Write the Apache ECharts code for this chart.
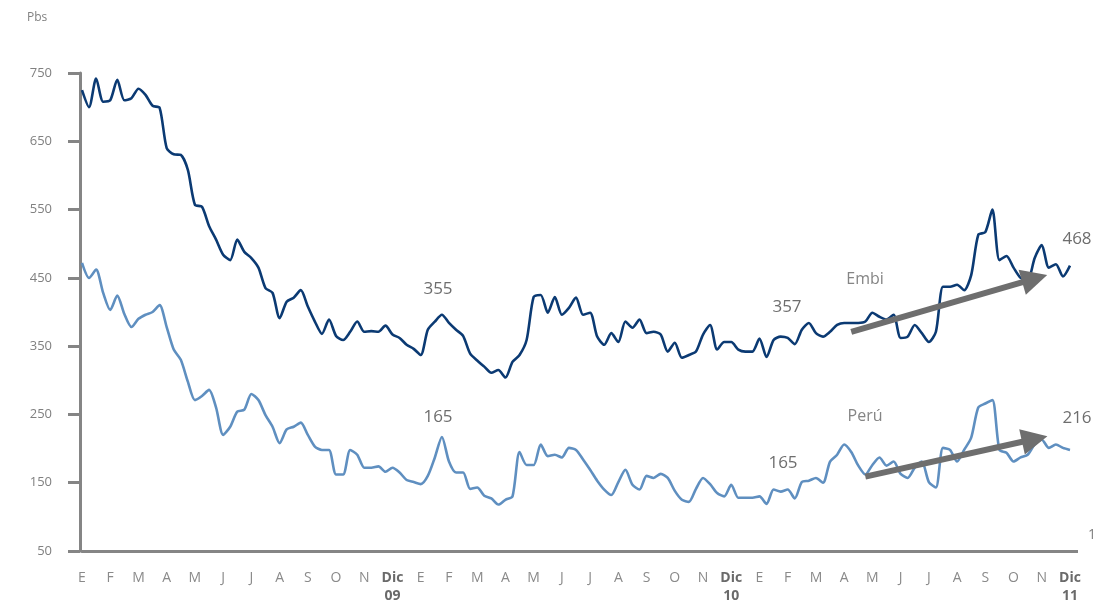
<!DOCTYPE html>
<html>
<head>
<meta charset="utf-8">
<script src="https://cdn.jsdelivr.net/npm/echarts@6/dist/echarts.min.js"></script>
<style>
html,body{margin:0;padding:0;background:#fff;}
#chart{width:1109px;height:610px;}
</style>
</head>
<body>
<div id="chart"></div>
<script>
// Month tick labels (one every 4 data points)
const monthLabels = ['E','F','M','A','M','J','J','A','S','O','N','Dic',
                     'E','F','M','A','M','J','J','A','S','O','N','Dic',
                     'E','F','M','A','M','J','J','A','S','O','N','Dic'];
const yearLabels = ['09','10','11'];
const pointsPerMonth = 4;
const yTicks = [50,150,250,350,450,550,650,750];

// Embi spread (pbs), weekly-ish readings
const embi = [
 725,700,742,708,710,740,710,713,727,718,
 702,699,640,631,630,608,557,554,526,506,
 484,476,506,488,479,465,435,428,391,415,
 421,432,408,386,368,389,365,359,371,386,
 371,372,371,380,367,362,352,346,337,374,
 386,396,384,374,365,339,329,320,311,315,
 304,327,337,359,422,425,399,422,396,406,
 421,396,399,364,352,369,356,386,377,389,
 369,371,367,342,355,333,337,342,367,381,
 345,356,356,345,342,342,361,334,359,364,
 362,353,374,384,369,364,371,381,384,384,
 384,386,399,393,389,396,362,364,381,369,
 356,371,437,437,440,432,454,513,517,550,
 476,482,465,450,447,479,498,465,470,452,
 468
];

// Perú spread (pbs)
const peru = [
 472,450,462,428,403,424,397,378,390,396,
 400,410,378,345,330,298,271,277,286,260,
 220,232,254,257,280,271,249,232,208,228,
 232,238,220,203,198,198,162,162,198,191,
 172,172,174,166,172,165,154,151,148,160,
 187,217,181,165,165,141,143,131,127,118,
 125,130,195,176,176,206,189,191,187,201,
 198,184,169,153,140,132,151,169,147,140,
 160,157,163,157,138,125,122,141,157,148,
 135,130,147,128,128,128,130,119,140,137,
 140,127,151,153,157,150,181,191,206,195,
 175,162,176,187,175,181,163,157,172,181,
 151,143,201,198,181,198,216,260,266,271,
 198,194,181,187,191,206,213,201,206,201,
 198
];

// Trend arrows: [startIndex, startValue, endIndex, endValue]
const embiTrend = [109, 371, 135, 449];
const peruTrend = [111, 159, 135, 214];

const categories = embi.map((_, i) => 't' + i);

const chart = echarts.init(document.getElementById('chart'));
const font = '"Open Sans", "Noto Sans", sans-serif';
const axisGray = '#858585';

function arrow(tr) {
  return {
    silent: true,
    symbol: ['none', 'triangle'],
    symbolSize: [26, 26],
    lineStyle: { color: '#6e6e6e', width: 6, type: 'solid' },
    itemStyle: { color: '#6e6e6e' },
    label: { show: false },
    emphasis: { disabled: true },
    data: [[{ coord: [tr[0], tr[1]] }, { coord: [tr[2], tr[3]] }]]
  };
}

function txt(x, y, s, size, color) {
  return { type: 'text', x: x, y: y, style: { text: s, fontSize: size, fill: color, fontFamily: font, align: 'center', verticalAlign: 'middle' } };
}

chart.setOption({
  animation: false,
  textStyle: { fontFamily: font },
  grid: { left: 82, right: 39, top: 73, bottom: 59, containLabel: false },
  xAxis: {
    type: 'category',
    data: categories,
    boundaryGap: false,
    axisLine: { show: true, lineStyle: { color: axisGray, width: 3 } },
    axisTick: { show: false },
    splitLine: { show: false },
    axisLabel: {
      interval: 0,
      margin: 18,
      fontFamily: font,
      formatter: function (v, idx) {
        if (idx % pointsPerMonth !== 0) return '';
        const m = idx / pointsPerMonth;
        const lab = monthLabels[m];
        if (lab === 'Dic') {
          return '{b|Dic}\n{b|' + yearLabels[Math.floor(m / 12)] + '}';
        }
        return '{n|' + lab + '}';
      },
      rich: {
        n: { color: '#8a8a8a', fontSize: 14, fontFamily: font, lineHeight: 18 },
        b: { color: '#6a6a6a', fontSize: 14, fontWeight: 'bold', fontFamily: font, lineHeight: 18 }
      }
    }
  },
  yAxis: {
    type: 'value',
    min: yTicks[0],
    max: yTicks[yTicks.length - 1],
    interval: 100,
    offset: 2,
    axisLine: { show: true, lineStyle: { color: axisGray, width: 3 } },
    axisTick: { show: true, length: 12, lineStyle: { color: axisGray, width: 3 } },
    splitLine: { show: false },
    axisLabel: { margin: 28, color: '#808080', fontSize: 13, fontFamily: font }
  },
  series: [
    {
      name: 'Embi',
      type: 'line',
      data: embi,
      showSymbol: false,
      smooth: 0.25,
      lineStyle: { color: '#0b3a73', width: 2.6 },
      itemStyle: { color: '#0b3a73' },
      z: 3,
      markLine: arrow(embiTrend)
    },
    {
      name: 'Perú',
      type: 'line',
      data: peru,
      showSymbol: false,
      smooth: 0.25,
      lineStyle: { color: '#5f8fc0', width: 2.6 },
      itemStyle: { color: '#5f8fc0' },
      z: 3,
      markLine: arrow(peruTrend)
    }
  ],
  graphic: [
    { type: 'line', shape: { x1: 1068, y1: 551.5, x2: 1078, y2: 551.5 }, style: { stroke: axisGray, lineWidth: 3 } },
    { type: 'text', x: 27, y: 12, style: { text: 'Pbs', fontSize: 12, fill: '#808080', fontFamily: font } },
    txt(438, 289, '355', 17, '#6e6e6e'),
    txt(438, 417, '165', 17, '#6e6e6e'),
    txt(787, 307, '357', 17, '#6e6e6e'),
    txt(783, 463, '165', 17, '#6e6e6e'),
    txt(865, 279, 'Embi', 16, '#858585'),
    txt(865, 416, 'Perú', 16, '#858585'),
    txt(1077, 239, '468', 17, '#6e6e6e'),
    txt(1077, 418, '216', 17, '#6e6e6e'),
    txt(1092, 535, '1', 14, '#808080')
  ]
});
</script>
</body>
</html>
